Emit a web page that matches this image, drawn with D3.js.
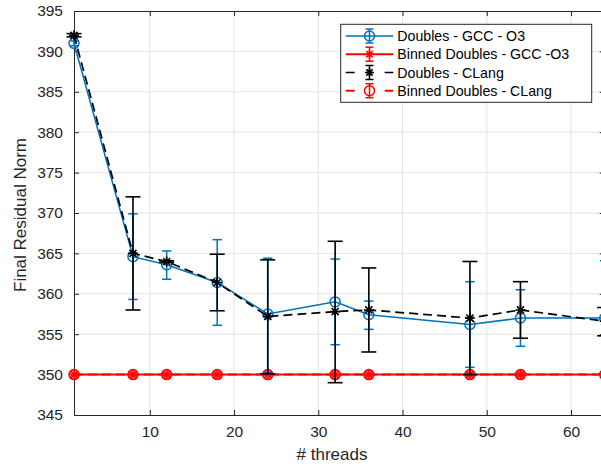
<!DOCTYPE html>
<html>
<head>
<meta charset="utf-8">
<script src="https://cdn.jsdelivr.net/npm/d3@7"></script>
<style>
  html, body { margin: 0; padding: 0; background: #fff; }
  svg { display: block; font-family: "Liberation Sans", Arial, Helvetica, sans-serif; }
</style>
</head>
<body>
<svg id="chart" width="601" height="468"></svg>
<script>
// ---- data ----
const threads = [1, 8, 12, 18, 24, 32, 36, 48, 54, 64];

const gccMean  = [391.0, 364.6, 363.6, 361.4, 357.5, 359.0, 357.4, 356.2, 357.0, 357.0];
const gccUpper = [391.3, 369.9, 365.3, 366.7, 364.4, 364.3, 359.1, 361.5, 360.5, 364.1];
const gccLower = [390.7, 359.3, 361.8, 356.1, 350.2, 353.7, 355.6, 350.9, 353.5, 349.9];

const clangMean  = [392.0, 365.0, 364.0, 361.4, 357.2, 357.8, 358.0, 357.0, 358.0, 356.6];
const clangUpper = [392.2, 372.0, 364.1, 364.9, 364.2, 366.5, 363.2, 364.0, 361.5, 358.3];
const clangLower = [391.8, 358.0, 363.9, 357.9, 350.1, 349.0, 352.8, 350.0, 354.5, 354.8];

const binnedGccMean   = [350, 350, 350, 350, 350, 350, 350, 350, 350, 350];
const binnedClangMean = [350, 350, 350, 350, 350, 350, 350, 350, 350, 350];

const xTicks = [10, 20, 30, 40, 50, 60];
const yTicks = [345, 350, 355, 360, 365, 370, 375, 380, 385, 390, 395];

const legendLabels = ["Doubles - GCC - O3", "Binned Doubles - GCC -O3", "Doubles - CLang", "Binned Doubles - CLang"];

// ---- layout ----
const BLUE = "#0072BD", RED = "#FF0000", BLACK = "#000000", AXIS = "#262626";
const svg = d3.select("#chart");
const x = d3.scaleLinear().domain([1, 64]).range([74, 604.7]);
const y = d3.scaleLinear().domain([345, 395]).range([415, 11]);
const [x0, x1] = x.range();
const [yb, yt] = y.range();

// grid
const grid = svg.append("g");
grid.selectAll("line.gx").data(xTicks).join("line")
  .attr("x1", d => x(d)).attr("x2", d => x(d)).attr("y1", yt).attr("y2", yb)
  .attr("stroke", "#e3e3e3").attr("stroke-width", 1);
grid.selectAll("line.gy").data(yTicks.slice(1, -1)).join("line")
  .attr("x1", x0).attr("x2", x1).attr("y1", d => y(d)).attr("y2", d => y(d))
  .attr("stroke", "#e3e3e3").attr("stroke-width", 1);

// axes
function styleAxis(g) {
  g.select(".domain").attr("stroke", AXIS).attr("stroke-width", 1);
  g.selectAll(".tick line").attr("stroke", AXIS);
  g.selectAll(".tick text").attr("fill", AXIS).style("font-size", "15.5px")
    .style("font-family", '"Liberation Sans", Arial, sans-serif');
}
const axB = svg.append("g").attr("transform", `translate(0,${yb})`)
  .call(d3.axisBottom(x).tickValues(xTicks).tickSizeInner(-5).tickSizeOuter(0).tickPadding(11));
styleAxis(axB);
const axT = svg.append("g").attr("transform", `translate(0,${yt})`)
  .call(d3.axisTop(x).tickValues(xTicks).tickSizeInner(-5).tickSizeOuter(0).tickFormat(""));
styleAxis(axT);
const axL = svg.append("g").attr("transform", `translate(${x0},0)`)
  .call(d3.axisLeft(y).tickValues(yTicks).tickSizeInner(-5).tickSizeOuter(0).tickPadding(11).tickFormat(d3.format("d")));
styleAxis(axL);
const axR = svg.append("g").attr("transform", `translate(${x1},0)`)
  .call(d3.axisRight(y).tickValues(yTicks).tickSizeInner(-5).tickSizeOuter(0).tickFormat(""));
styleAxis(axR);

// axis labels
svg.append("text").attr("x", 332).attr("y", 460).attr("text-anchor", "middle")
  .attr("fill", AXIS).style("font-size", "17px").text("# threads");
svg.append("text").attr("transform", `translate(26,${(yt + yb) / 2 + 2}) rotate(-90)`)
  .attr("text-anchor", "middle").attr("fill", AXIS).style("font-size", "17px").text("Final Residual Norm");

// helpers
function asterisk(g, cx, cy, r, color, sw) {
  const d = r * Math.SQRT1_2;
  const p = `M${cx - r},${cy}L${cx + r},${cy}M${cx},${cy - r}L${cx},${cy + r}` +
            `M${cx - d},${cy - d}L${cx + d},${cy + d}M${cx - d},${cy + d}L${cx + d},${cy - d}`;
  g.append("path").attr("d", p).attr("stroke", color).attr("stroke-width", sw).attr("fill", "none");
}
function errorBars(g, xs, lo, hi, color, cap, sw) {
  xs.forEach((t, i) => {
    const cx = x(t);
    g.append("line").attr("x1", cx).attr("x2", cx).attr("y1", y(lo[i])).attr("y2", y(hi[i]))
      .attr("stroke", color).attr("stroke-width", sw);
    [lo[i], hi[i]].forEach(v => g.append("line")
      .attr("x1", cx - cap).attr("x2", cx + cap).attr("y1", y(v)).attr("y2", y(v))
      .attr("stroke", color).attr("stroke-width", sw));
  });
}
const line = d3.line().x(d => x(d[0])).y(d => y(d[1]));
const zip = (a, b) => a.map((v, i) => [v, b[i]]);

const plot = svg.append("g");

// Binned Doubles - GCC -O3 (red solid, asterisk)
plot.append("path").attr("d", line(zip(threads, binnedGccMean)))
  .attr("stroke", RED).attr("stroke-width", 2).attr("fill", "none");
threads.forEach((t, i) => plot.append("circle").attr("cx", x(t)).attr("cy", y(binnedClangMean[i])).attr("r", 5)
  .attr("stroke", RED).attr("stroke-width", 1.5).attr("fill", "rgba(255,60,60,0.75)"));
threads.forEach((t, i) => asterisk(plot, x(t), y(binnedGccMean[i]), 4.5, RED, 1.3));
// Binned Doubles - CLang (red dashed, circle)
plot.append("path").attr("d", line(zip(threads, binnedClangMean)))
  .attr("stroke", RED).attr("stroke-width", 2).attr("stroke-dasharray", "9,5").attr("fill", "none");

// Doubles - GCC - O3 (blue)
errorBars(plot, threads, gccLower, gccUpper, BLUE, 4.7, 1.5);
plot.append("path").attr("d", line(zip(threads, gccMean)))
  .attr("stroke", BLUE).attr("stroke-width", 1.5).attr("fill", "none");
threads.forEach((t, i) => plot.append("circle").attr("cx", x(t)).attr("cy", y(gccMean[i])).attr("r", 5)
  .attr("stroke", BLUE).attr("stroke-width", 1.5).attr("fill", "none"));

// Doubles - CLang (black dashed)
errorBars(plot, threads, clangLower, clangUpper, BLACK, 7.5, 1.6);
plot.append("path").attr("d", line(zip(threads, clangMean)))
  .attr("stroke", BLACK).attr("stroke-width", 1.7).attr("stroke-dasharray", "9,5").attr("fill", "none");
threads.forEach((t, i) => asterisk(plot, x(t), y(clangMean[i]), 5, BLACK, 1.6));

// ---- legend ----
const lg = svg.append("g");
lg.append("rect").attr("x", 340.7).attr("y", 24.3).attr("width", 251).attr("height", 78)
  .attr("fill", "#fff").attr("stroke", AXIS).attr("stroke-width", 1);
const rowsY = [36, 54.2, 72.5, 90.7];
const styles = [
  { c: BLUE, dash: null, m: "o", cap: 4 },
  { c: RED, dash: null, m: "*", cap: 4 },
  { c: BLACK, dash: "9,30", m: "*", cap: 4 },
  { c: RED, dash: "9,30", m: "o", cap: 4 }
];
legendLabels.forEach((lab, i) => {
  const ry = rowsY[i], s = styles[i], mx = 369.5;
  const ln = lg.append("line").attr("x1", 345.7).attr("x2", 393.3).attr("y1", ry).attr("y2", ry)
    .attr("stroke", s.c).attr("stroke-width", i % 2 === 1 ? 2 : 1.7);
  if (s.dash) ln.attr("stroke-dasharray", s.dash);
  lg.append("line").attr("x1", mx).attr("x2", mx).attr("y1", ry - 7).attr("y2", ry + 7).attr("stroke", s.c).attr("stroke-width", 1.5);
  [ry - 7, ry + 7].forEach(yy => lg.append("line").attr("x1", mx - s.cap).attr("x2", mx + s.cap)
    .attr("y1", yy).attr("y2", yy).attr("stroke", s.c).attr("stroke-width", 1.5));
  if (s.m === "o") lg.append("circle").attr("cx", mx).attr("cy", ry).attr("r", 5).attr("fill", "none")
    .attr("stroke", s.c).attr("stroke-width", 1.5);
  else asterisk(lg, mx, ry, 4.5, s.c, 1.6);
  lg.append("text").attr("x", 397.3).attr("y", ry).attr("dy", "0.36em").attr("fill", "#000")
    .style("font-size", "14.2px").text(lab);
});
</script>
</body>
</html>
